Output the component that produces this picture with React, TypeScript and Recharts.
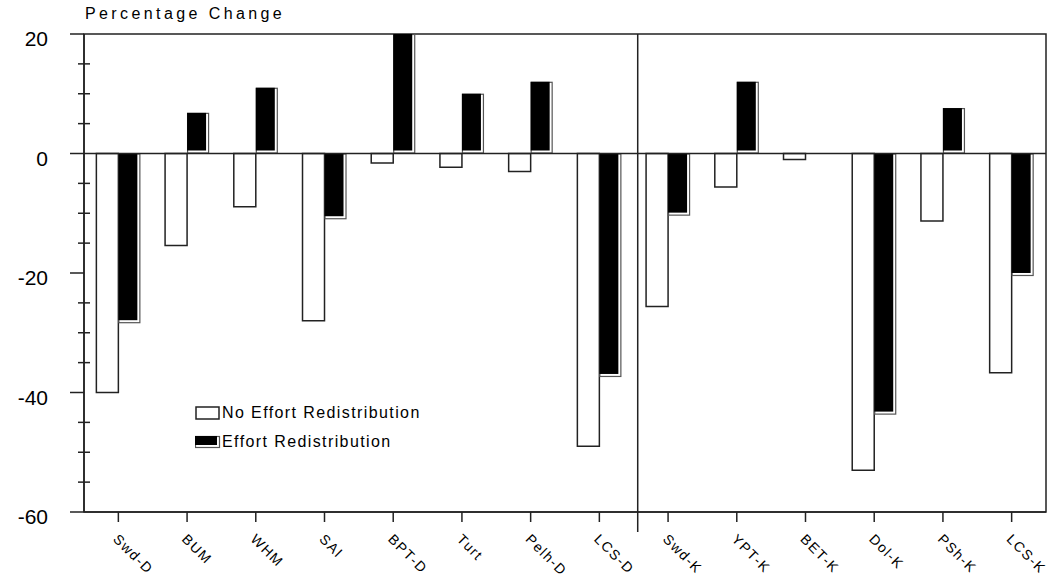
import React from 'react';
import { BarChart, Bar, XAxis, YAxis, ReferenceLine, ReferenceArea } from 'recharts';

const categories = ['Swd-D', 'BUM', 'WHM', 'SAI', 'BPT-D', 'Turt', 'Pelh-D', 'LCS-D', 'Swd-K', 'YPT-K', 'BET-K', 'Dol-K', 'PSh-K', 'LCS-K'];
const noRedistribution = [-40, -15.4, -8.9, -28, -1.6, -2.3, -3, -49, -25.6, -5.6, -1, -53, -11.3, -36.7];
const redistribution = [-28.4, 6.8, 11, -11, 20, 10, 12, -37.4, -10.4, 12, 0, -43.7, 7.6, -20.5];
const yTicks = [20, 15, 10, 5, 0, -5, -10, -15, -20, -25, -30, -35, -40, -45, -50, -55, -60];
const yLabels = [20, 0, -20, -40, -60];
const legendLabels = ['No Effort Redistribution', 'Effort Redistribution'];

const data = categories.map((name, i) => ({
    name,
    noRedist: noRedistribution[i],
    redist: redistribution[i],
}));

const FONT = '"Liberation Sans", Arial, sans-serif';
const INK = '#222';

const YTick = ({ x, y, payload }: any) => {
    const v = payload.value;
    const major = yLabels.includes(v);
    return (
        <g>
            {major ? (
                <>
                    <line x1={x - 14} x2={x} y1={y} y2={y} stroke={INK} strokeWidth={1.5} />
                    <text x={x - 36} y={y + 12} textAnchor="end" fontSize={21} fontFamily={FONT} fill="#000">
                        {v}
                    </text>
                </>
            ) : (
                <line x1={x - 6} x2={x + 6} y1={y} y2={y} stroke={INK} strokeWidth={1.5} />
            )}
        </g>
    );
};

const XTick = ({ x, y, payload }: any) => {
    const tx = x - 6;
    const ty = y + 18;
    return (
        <text
            x={tx}
            y={ty}
            transform={`rotate(45, ${tx}, ${ty})`}
            textAnchor="start"
            fontSize={14}
            letterSpacing={1.5}
            fontFamily={FONT}
            fill="#000"
        >
            {payload.value}
        </text>
    );
};

const BlackBar = (props: any) => {
    const { x, y, width, height } = props;
    if (!height) return null;
    const top = Math.min(y, y + height);
    const h = Math.abs(height);
    return (
        <g>
            <rect x={x + 0.5} y={top + 0.5} width={width - 1} height={Math.max(h - 1, 0)} fill="#fff" stroke="#555" strokeWidth={1.2} />
            <rect x={x} y={top} width={width - 3} height={Math.max(h - 3, 0)} fill="#000" />
        </g>
    );
};

// separator between the two fleets, sits a little right of the band edge
const Divider = (props: any) => {
    const { x1, y1, x2, y2 } = props;
    const top = Math.min(y1, y2);
    const bottom = Math.max(y1, y2);
    return <line x1={x1 + 4} y1={top} x2={x2 + 4} y2={bottom + 20} stroke={INK} strokeWidth={1.5} />;
};

const LegendBox = () => (
    <div
        style={{
            position: 'absolute',
            left: 195,
            top: 398,
            fontFamily: FONT,
            fontSize: 16,
            letterSpacing: 1.4,
            color: '#000',
            lineHeight: '29px',
            whiteSpace: 'nowrap',
        }}
    >
        <div style={{ display: 'flex', alignItems: 'center' }}>
            <svg width={26} height={16} style={{ marginRight: 1 }}>
                <rect x={1} y={2} width={23} height={12} fill="#fff" stroke={INK} strokeWidth={1.5} />
            </svg>
            {legendLabels[0]}
        </div>
        <div style={{ display: 'flex', alignItems: 'center' }}>
            <svg width={26} height={16} style={{ marginRight: 1 }}>
                <rect x={0.5} y={2.5} width={24} height={11} fill="#fff" stroke="#555" strokeWidth={1.2} />
                <rect x={0} y={2} width={22} height={9} fill="#000" />
            </svg>
            {legendLabels[1]}
        </div>
    </div>
);

export default function App() {
    return (
        <div style={{ position: 'absolute', left: 0, top: 0, width: 1054, height: 584, background: '#fff' }}>
            <div
                style={{
                    position: 'absolute',
                    left: 85,
                    top: 5,
                    fontFamily: FONT,
                    fontSize: 16,
                    letterSpacing: 3.4,
                    color: '#000',
                    whiteSpace: 'nowrap',
                }}
            >
                Percentage Change
            </div>
            <BarChart
                width={1054}
                height={584}
                data={data}
                margin={{ top: 34, right: 8, left: 0, bottom: 0 }}
                barCategoryGap="18%"
                barGap={0}
            >
                <XAxis
                    dataKey="name"
                    height={72}
                    interval={0}
                    axisLine={{ stroke: INK, strokeWidth: 1.5 }}
                    tickLine={{ stroke: INK, strokeWidth: 1.5 }}
                    tickSize={10}
                    tickMargin={0}
                    tick={<XTick />}
                />
                <YAxis
                    width={84}
                    domain={[-60, 20]}
                    ticks={yTicks}
                    interval={0}
                    allowDataOverflow
                    axisLine={{ stroke: INK, strokeWidth: 1.5 }}
                    tickLine={false}
                    tickSize={0}
                    tickMargin={0}
                    tick={<YTick />}
                />
                <ReferenceArea y1={-60} y2={20} fill="none" fillOpacity={0} stroke={INK} strokeWidth={1.5} />
                <Bar dataKey="noRedist" fill="#fff" stroke={INK} strokeWidth={1.5} isAnimationActive={false} />
                <Bar dataKey="redist" shape={<BlackBar />} isAnimationActive={false} />
                <ReferenceLine y={0} stroke={INK} strokeWidth={1.5} />
                <ReferenceLine x="LCS-D" position="end" stroke={INK} strokeWidth={1.5} ifOverflow="visible" shape={<Divider />} />
            </BarChart>
            <LegendBox />
        </div>
    );
}
